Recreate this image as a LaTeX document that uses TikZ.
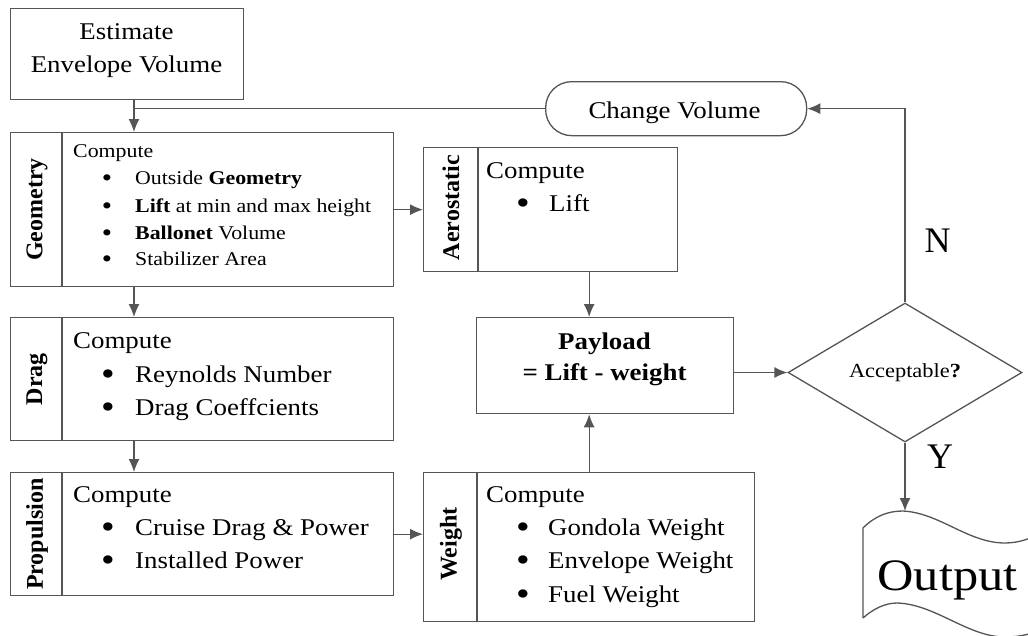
\documentclass[tikz,border=0pt]{standalone}
\usepackage{fontspec}
\setmainfont{Liberation Serif}
\newfontfamily\wf[FakeStretch=1.12]{Liberation Serif}
\usetikzlibrary{arrows.meta,shapes.geometric,calc}
\definecolor{lncol}{RGB}{85,85,85}
\newcommand{\bigbul}{\raisebox{-0.16em}{\scalebox{1.45}{\textbullet}}}
\tikzset{
  x=1pt,y=-1pt,
  box/.style={draw=lncol, line width=1.3pt, rectangle, inner sep=0pt, anchor=north west},
  arr/.style={draw=lncol, line width=1.3pt, -{Latex[length=13pt,width=11pt]}},
  plain/.style={draw=lncol, line width=1.3pt},
  side/.style={rotate=90, inner sep=0pt, font=\bfseries\fontsize{24}{28}\selectfont},
  tl/.style={anchor=base west, inner sep=0pt, font=\wf\fontsize{24}{28}\selectfont},
  tc/.style={anchor=base, inner sep=0pt, font=\wf\fontsize{24}{28}\selectfont},
  tls/.style={anchor=base west, inner sep=0pt, font=\wf\fontsize{19.5}{24}\selectfont},
  bul/.style={anchor=base, inner sep=0pt, font=\wf\fontsize{24}{28}\selectfont},
  buls/.style={anchor=base, inner sep=0pt, font=\wf\fontsize{18}{22}\selectfont},
}
\begin{document}
\begin{tikzpicture}
\fill[white] (0,0) rectangle (1028,635);
\useasboundingbox (0,0) rectangle (1028,635);
\coordinate (ax) at (134,0);

% boxes
\node[box, minimum width=233pt, minimum height=91pt] (est) at (10,8) {};
\node[box, minimum width=383pt, minimum height=154pt] (geo) at (10,132) {};
\node[box, minimum width=383pt, minimum height=123pt] (drag) at (10,317) {};
\node[box, minimum width=383pt, minimum height=123pt] (prop) at (10,472) {};
\node[box, minimum width=254pt, minimum height=124pt] (aero) at (423,147) {};
\node[box, minimum width=257pt, minimum height=96pt] (pay) at (476,317) {};
\node[box, minimum width=331pt, minimum height=149pt] (wgt) at (423,472) {};
\node[box, minimum width=261pt, minimum height=54pt, rounded corners=26pt] (cv) at (545,81) {};
\node[draw=lncol, line width=1.3pt, diamond, inner sep=0pt, minimum width=234pt, minimum height=139pt] (dia) at (905,372.5) {};

% dividers
\draw[plain] ($(geo.north west)+(52,0)$) -- ($(geo.south west)+(52,0)$);
\draw[plain] ($(drag.north west)+(52,0)$) -- ($(drag.south west)+(52,0)$);
\draw[plain] ($(prop.north west)+(52,0)$) -- ($(prop.south west)+(52,0)$);
\draw[plain] ($(aero.north west)+(55,0)$) -- ($(aero.south west)+(55,0)$);
\draw[plain] ($(wgt.north west)+(54,0)$) -- ($(wgt.south west)+(54,0)$);

% side labels
\node[side] (geoL) at ($(geo.west)+(27,0)$) {Geometry};
\node[side] (dragL) at ($(drag.west)+(27,0)$) {Drag};
\node[side] (propL) at ($(prop.west)+(27,0)$) {Propulsion};
\node[side] (aeroL) at ($(aero.west)+(28,-2)$) {Aerostatic};
\node[side] (wgtL) at ($(wgt.west)+(28,-3)$) {Weight};

% estimate
\node[tc] (estT1) at (126.5,39) {Estimate};
\node[tc] (estT2) at (126.5,72) {Envelope Volume};

% geometry text
\node[tls] (geoC) at (73,157) {Compute};
\node[buls] (geoB1) at (107,184) {\bigbul};
\node[tls] (geo1) at (135,184) {Outside \textbf{Geometry}};
\node[buls] (geoB2) at (107,212) {\bigbul};
\node[tls] (geo2) at (135,212) {\textbf{Lift} at min and max height};
\node[buls] (geoB3) at (107,239) {\bigbul};
\node[tls] (geo3) at (135,239) {\textbf{Ballonet} Volume};
\node[buls] (geoB4) at (107,265) {\bigbul};
\node[tls] (geo4) at (135,265) {Stabilizer Area};

% drag text
\node[tl] (dragC) at (73,348) {Compute};
\node[bul] (dragB1) at (108,382) {\bigbul};
\node[tl] (drag1) at (135,382) {Reynolds Number};
\node[bul] (dragB2) at (108,415) {\bigbul};
\node[tl] (drag2) at (135,415) {Drag Coeffcients};

% propulsion text
\node[tl] (propC) at (73,502) {Compute};
\node[bul] (propB1) at (108,535) {\bigbul};
\node[tl] (prop1) at (135,535) {Cruise Drag \& Power};
\node[bul] (propB2) at (108,568) {\bigbul};
\node[tl] (prop2) at (135,568) {Installed Power};

% aerostatic text
\node[tl] (aeroC) at (486,178) {Compute};
\node[bul] (aeroB1) at (523,211) {\bigbul};
\node[tl] (aero1) at (549,211) {Lift};

% weight text
\node[tl] (wgtC) at (486,502) {Compute};
\node[bul] (wgtB1) at (523,535) {\bigbul};
\node[tl] (wgt1) at (548,535) {Gondola Weight};
\node[bul] (wgtB2) at (523,568) {\bigbul};
\node[tl] (wgt2) at (548,568) {Envelope Weight};
\node[bul] (wgtB3) at (523,602) {\bigbul};
\node[tl] (wgt3) at (548,602) {Fuel Weight};

% payload
\node[tc, font=\wf\bfseries\fontsize{24}{28}\selectfont] (payT1) at (604.5,349) {Payload};
\node[tc, font=\wf\bfseries\fontsize{24}{28}\selectfont] (payT2) at (604.5,380) {= Lift - weight};

% change volume
\node[tc] (cvT) at (674.5,118) {Change Volume};

% acceptable
\node[anchor=base, inner sep=0pt, font=\wf\fontsize{20}{24}\selectfont] (diaT) at (905,377) {Acceptable\textbf{?}};

% N / Y
\node[anchor=base, inner sep=0pt, font=\fontsize{36}{40}\selectfont] (nT) at (937.5,252) {N};
\node[anchor=base, inner sep=0pt, font=\fontsize{36}{40}\selectfont] (yT) at (940,468) {Y};

% output shape
\coordinate (outTop) at (903,511);
\begin{scope}
\clip (0,0) rectangle (1028,635);
\draw[plain, fill=white] (863,618) -- (863,528)
  .. controls (875,516) and (888,511) .. (903,511)
  .. controls (940,513) and (968,543) .. (1005,543)
  .. controls (1020,543) and (1032,538) .. (1045,531)
  -- (1045,628)
  .. controls (1032,634) and (1020,637) .. (1005,637)
  .. controls (968,637) and (935,604) .. (897,603)
  .. controls (885,603) and (873,609) .. (863,618);
\end{scope}
\node[anchor=base, inner sep=0pt, font=\wf\fontsize{45}{50}\selectfont] (outT) at (947.5,590) {Output};

% connectors
\draw[arr] (est.south -| ax) -- (geo.north -| ax);
\draw[plain] (cv.west) -- (cv.west -| ax);
\draw[arr] (geo.south -| ax) -- (drag.north -| ax);
\draw[arr] (drag.south -| ax) -- (prop.north -| ax);
\draw[arr] (geo.east) -- (geo.east -| aero.west);
\draw[arr] (aero.south -| wgt.north) -- (pay.north -| wgt.north);
\draw[arr] (wgt.north) -- (wgt.north |- pay.south);
\draw[arr] (prop.east) -- (prop.east -| wgt.west);
\draw[arr] (dia.west -| pay.east) -- (dia.west);
\draw[arr] (dia.north) |- (cv.east);
\draw[arr] (dia.south) -- (dia.south |- outTop);
\end{tikzpicture}
\end{document}
